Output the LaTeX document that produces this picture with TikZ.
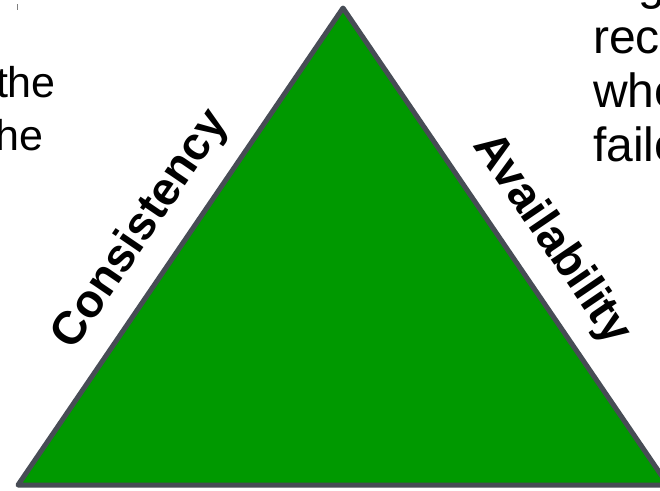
\documentclass[tikz,border=0pt]{standalone}
\usepackage{fontspec}
\setmainfont{Liberation Sans}
\usetikzlibrary{positioning}
\definecolor{capgreen}{HTML}{009900}
\definecolor{capedge}{HTML}{474C55}
\tikzset{
  sidelabel/.style={sloped, inner sep=0pt, font=\fontsize{46.5}{54}\selectfont\bfseries},
  cuttext/.style={inner sep=0pt, font=\fontsize{48}{54}\selectfont}
}
\begin{document}
\begin{tikzpicture}[x=1pt, y=-1pt]
    % Frame
    \useasboundingbox (0,0) rectangle (660,490);
    \clip (0,0) rectangle (660,490);
    % Coordinates
    \coordinate (T) at (343,8);
    \coordinate (L) at (18,485);
    \coordinate (R) at (668,485);
    % Triangle
    \draw[line width=5pt, capedge, fill=capgreen, line join=round] (T) -- (R) -- (L) -- cycle;
    % Side labels
    \path (L) -- (T) node[sidelabel, pos=0.485, above=20pt] (cons) {Consistency};
    \path (T) -- (R) node[sidelabel, pos=0.535, above=20pt] (avail) {Availability};
    % Cut text, left
    \draw[gray, line width=1pt] (17,4) -- (17,10);
    \node[cuttext, anchor=base east, font=\fontsize{43}{54}\selectfont] (the) at (56,97) {the};
    \node[cuttext, anchor=base east, font=\fontsize{43}{54}\selectfont] (he) at (44,150) {he};
    % Cut text, right
    \foreach \w [count=\i] in {A g, rec, whe, faile}
        \node[cuttext, anchor=base west] (line\i) at (593,{-1+54*(\i-1)}) {\w};
\end{tikzpicture}
\end{document}
